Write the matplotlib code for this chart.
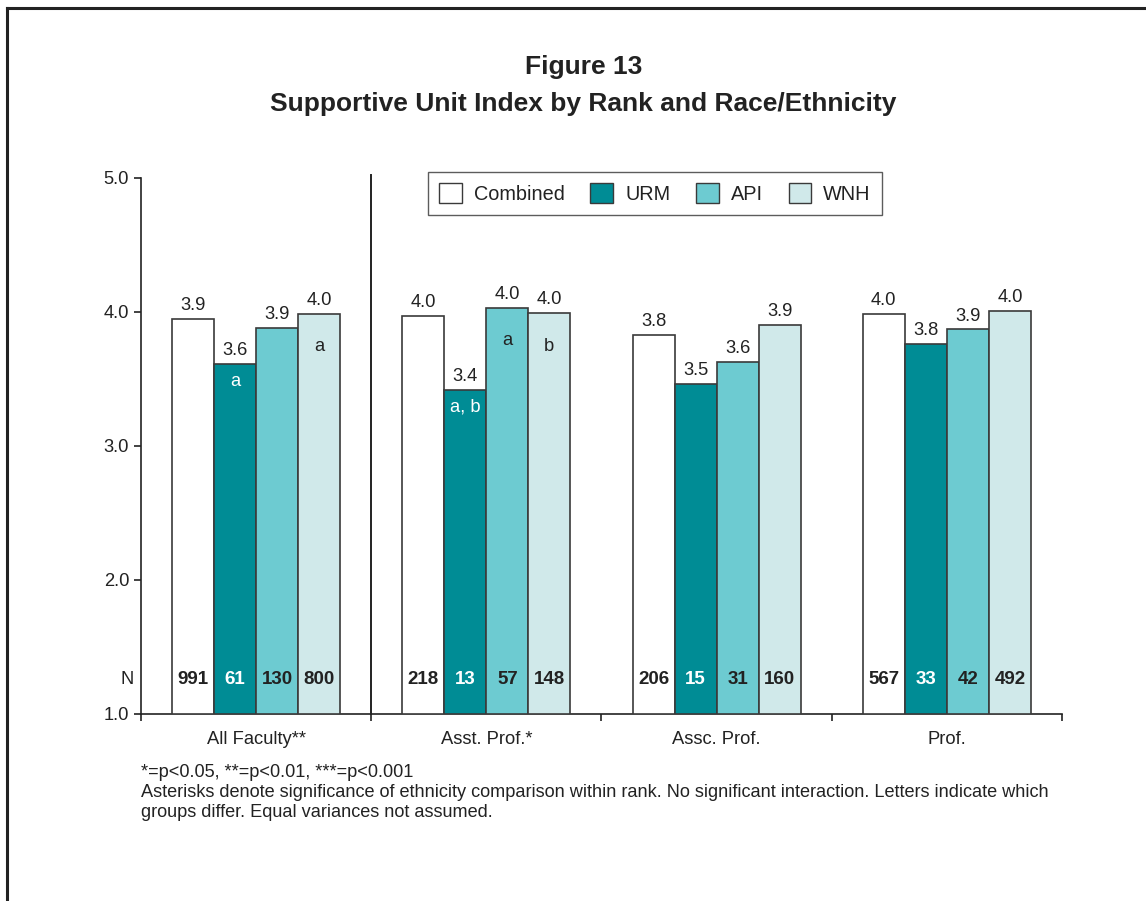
import numpy as np
import matplotlib.pyplot as plt
from matplotlib.patches import Patch
from matplotlib.lines import Line2D

plt.rcParams['font.family'] = ['Liberation Sans', 'DejaVu Sans']

groups = ["All Faculty**", "Asst. Prof.*", "Assc. Prof.", "Prof."]
series = ["Combined", "URM", "API", "WNH"]
values = {
    "Combined": [3.95, 3.97, 3.83, 3.985],
    "URM": [3.61, 3.42, 3.46, 3.76],
    "API": [3.88, 4.03, 3.63, 3.87],
    "WNH": [3.985, 3.99, 3.90, 4.01],
}
labels = {
    "Combined": ["3.9", "4.0", "3.8", "4.0"],
    "URM": ["3.6", "3.4", "3.5", "3.8"],
    "API": ["3.9", "4.0", "3.6", "3.9"],
    "WNH": ["4.0", "4.0", "3.9", "4.0"],
}
counts = {
    "Combined": [991, 218, 206, 567],
    "URM": [61, 13, 15, 33],
    "API": [130, 57, 31, 42],
    "WNH": [800, 148, 160, 492],
}
letters = {
    "Combined": ["", "", "", ""],
    "URM": ["a", "a, b", "", ""],
    "API": ["", "a", "", ""],
    "WNH": ["a", "b", "", ""],
}
colors = {"Combined": "#ffffff", "URM": "#008c95", "API": "#6dcbd1", "WNH": "#d0e9ea"}
txt_col = {"Combined": "#222222", "URM": "#ffffff", "API": "#222222", "WNH": "#222222"}

fs = 13.2

fig = plt.figure(figsize=(11.46, 9.01), dpi=100)
ax = fig.add_axes([0.1230, 0.2076, 0.8037, 0.5949])

x = np.arange(len(groups))
w = 0.1826
for i, s in enumerate(series):
    xs = x + (i - 1.5) * w
    ax.bar(xs, np.array(values[s]) - 1.0, bottom=1.0, width=w, color=colors[s],
           edgecolor="#3a3a3a", linewidth=1.2, zorder=3)
    for j in range(len(groups)):
        ax.annotate(labels[s][j], (xs[j], values[s][j]), xytext=(0, 3.5),
                    textcoords="offset points", ha="center", va="bottom",
                    fontsize=fs, color="#222222")
        if letters[s][j]:
            off = -17 if s == "URM" else -33
            ax.annotate(letters[s][j], (xs[j], values[s][j]), xytext=(0, off * 0.72),
                        textcoords="offset points", ha="center", va="center",
                        fontsize=fs, color=txt_col[s])
        ax.text(xs[j], 1.254, str(counts[s][j]), ha="center", va="center",
                fontsize=13.5, fontweight="bold", color=txt_col[s], zorder=4)

ax.text(-0.53, 1.254, "N", ha="right", va="center", fontsize=fs, color="#222222")

ax.set_xlim(-0.5, 3.5)
ax.set_ylim(1.0, 5.0)
ax.set_yticks([1, 2, 3, 4, 5])
ax.set_yticklabels(["1.0", "2.0", "3.0", "4.0", "5.0"], fontsize=fs, color="#222222")
ax.set_xticks([-0.5, 0.5, 1.5, 2.5, 3.5])
ax.set_xticklabels([])
ax.set_xticks(x, minor=True)
ax.set_xticklabels(groups, minor=True, fontsize=fs, color="#222222")
ax.tick_params(axis="x", which="minor", length=0, pad=12)
ax.tick_params(axis="both", which="major", length=5, width=1.2, color="#222222", direction="out")
ax.spines["top"].set_visible(False)
ax.spines["right"].set_visible(False)
for sp in ("left", "bottom"):
    ax.spines[sp].set_linewidth(1.2)
    ax.spines[sp].set_color("#222222")
ax.axvline(0.5, ymin=0, ymax=1.005, color="#222222", linewidth=1.4, clip_on=False)

handles = [Patch(facecolor=colors[s], edgecolor="#3a3a3a", linewidth=1.0) for s in series]
leg = ax.legend(handles, series, loc="center", bbox_to_anchor=(0.558, 0.971), ncol=4,
                frameon=True, fancybox=False, fontsize=14.3, handlelength=1.15,
                handleheight=1.15, columnspacing=1.3, handletextpad=0.6,
                borderpad=0.55, borderaxespad=0, edgecolor="#333333")
leg.get_frame().set_linewidth(1.0)
for t in leg.get_texts():
    t.set_color("#222222")

fig.text(0.509, 0.926, "Figure 13", ha="center", va="center", fontsize=19,
         fontweight="bold", color="#222222")
fig.text(0.509, 0.885, "Supportive Unit Index by Rank and Race/Ethnicity", ha="center",
         va="center", fontsize=19, fontweight="bold", color="#222222")

foot = ("*=p<0.05, **=p<0.01, ***=p<0.001\n"
        "Asterisks denote significance of ethnicity comparison within rank. No significant interaction. Letters indicate which\n"
        "groups differ. Equal variances not assumed.")
fig.text(0.1230, 1 - 764 / 901, foot, ha="left", va="top", fontsize=13.1,
         color="#222222", linespacing=1.22)

# outer frame (top and left edges visible)
fig.add_artist(Line2D([7 / 1146, 1145 / 1146], [1 - 8 / 901, 1 - 8 / 901],
                      transform=fig.transFigure, color="#222222", linewidth=2.2))
fig.add_artist(Line2D([7 / 1146, 7 / 1146], [1 - 8 / 901, 0],
                      transform=fig.transFigure, color="#222222", linewidth=2.2))

fig.savefig("out.png", dpi=100)
